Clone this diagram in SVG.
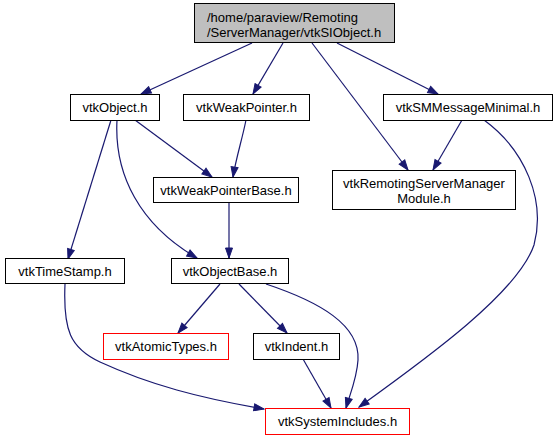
<svg xmlns="http://www.w3.org/2000/svg" width="559" height="440" viewBox="0 0 559 440">
<defs>
<marker id="arr" markerUnits="userSpaceOnUse" markerWidth="12" markerHeight="9" refX="11" refY="4.5" orient="auto">
<path d="M1,1 L11,4.5 L1,8 z" fill="#191970" stroke="#191970" stroke-width="1"/>
</marker>
<style>
.n rect{fill:#fff;stroke:#000;stroke-width:1}
.n.red rect{stroke:#ff0000}
.n.root rect{fill:#bfbfbf}
text{font-family:"Liberation Sans",Arial,Helvetica,sans-serif;font-size:13px;fill:#000}
.c{text-anchor:middle}
#edges path{fill:none;stroke:#191970;stroke-width:1.2;marker-end:url(#arr)}
</style>
</defs>
<g id="edges">
<path d="M252,43 L141,94"/>
<path d="M283,43 L253,94"/>
<path d="M312,43 L408,170"/>
<path d="M337,43 L438,94"/>
<path d="M135,120 L212,177"/>
<path d="M246,120 C242,140 236,158 233,177"/>
<path d="M111,120 L68,259"/>
<path d="M117,120 C114,175 140,225 197,258"/>
<path d="M462,120 L433,170"/>
<path d="M484,120 C525,150 546,200 534,245 C518,292 430,356 359,407"/>
<path d="M65,284 C63,330 70,348 100,362 C150,385 200,398 264,409"/>
<path d="M229,202 L229,258"/>
<path d="M220,284 L178,333"/>
<path d="M239,284 L287,333"/>
<path d="M266,284 C320,302 360,325 358,360 C357,378 350,394 346,408"/>
<path d="M303,359 L331,408"/>
</g>
<g id="node_root" class="n root">
<rect x="194.5" y="3.5" width="200" height="39"/>
<text x="207" y="22">/home/paraview/Remoting</text>
<text x="207" y="37">/ServerManager/vtkSIObject.h</text>
</g>
<g id="node_vtkObject" class="n">
<rect x="70.5" y="94.5" width="89" height="26"/>
<text class="c" x="115" y="112">vtkObject.h</text>
</g>
<g id="node_vtkWeakPointer" class="n">
<rect x="183.5" y="94.5" width="126" height="26"/>
<text class="c" x="246.5" y="112">vtkWeakPointer.h</text>
</g>
<g id="node_vtkSMMessageMinimal" class="n">
<rect x="383.5" y="94.5" width="169" height="26"/>
<text class="c" x="468" y="112">vtkSMMessageMinimal.h</text>
</g>
<g id="node_vtkRemotingServerManagerModule" class="n">
<rect x="332.5" y="170.5" width="183" height="39"/>
<text class="c" x="424" y="188">vtkRemotingServerManager</text>
<text class="c" x="424" y="203">Module.h</text>
</g>
<g id="node_vtkWeakPointerBase" class="n">
<rect x="153.5" y="177.5" width="145" height="25"/>
<text class="c" x="226" y="194.5">vtkWeakPointerBase.h</text>
</g>
<g id="node_vtkTimeStamp" class="n">
<rect x="5.5" y="258.5" width="119" height="25"/>
<text class="c" x="65" y="275.5">vtkTimeStamp.h</text>
</g>
<g id="node_vtkObjectBase" class="n">
<rect x="171.5" y="258.5" width="117" height="25"/>
<text class="c" x="230" y="275.5">vtkObjectBase.h</text>
</g>
<g id="node_vtkAtomicTypes" class="n red">
<rect x="103.5" y="333.5" width="125" height="26"/>
<text class="c" x="166" y="351">vtkAtomicTypes.h</text>
</g>
<g id="node_vtkIndent" class="n">
<rect x="253.5" y="333.5" width="86" height="26"/>
<text class="c" x="296.5" y="351">vtkIndent.h</text>
</g>
<g id="node_vtkSystemIncludes" class="n red">
<rect x="265.5" y="408.5" width="144" height="26"/>
<text class="c" x="337.5" y="426">vtkSystemIncludes.h</text>
</g>
</svg>
